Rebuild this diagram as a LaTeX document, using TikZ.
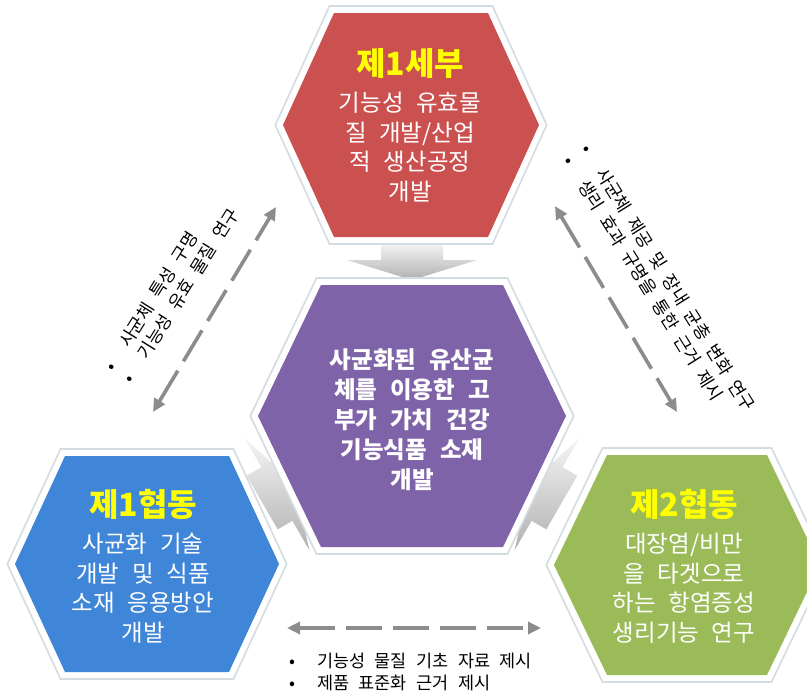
\documentclass[tikz,border=0pt]{standalone}
\usepackage{fontspec}
\setmainfont{Noto Sans CJK KR}[WordSpace=2.4]
\usetikzlibrary{arrows.meta}
\definecolor{hexred}{HTML}{CB5150}
\definecolor{hexpurple}{HTML}{7F63A8}
\definecolor{hexblue}{HTML}{3F86D8}
\definecolor{hexgreen}{HTML}{9BBB59}
\definecolor{rim}{HTML}{D3DCE0}
\definecolor{dashgray}{HTML}{8C8C8C}
\definecolor{titleyellow}{HTML}{FFFF00}
% cx cy halftop halfwidth halfheight colour
\newcommand\hexshape[6]{%
  \filldraw[white, draw=rim, line width=1.6pt]
    (#1-#3-4.5,#2-#5-7) -- (#1+#3+4.5,#2-#5-7) -- (#1+#4+7.7,#2) --
    (#1+#3+4.5,#2+#5+7) -- (#1-#3-4.5,#2+#5+7) -- (#1-#4-7.7,#2) -- cycle;
  \fill[#6]
    (#1-#3,#2-#5) -- (#1+#3,#2-#5) -- (#1+#4,#2) --
    (#1+#3,#2+#5) -- (#1-#3,#2+#5) -- (#1-#4,#2) -- cycle;
}
\newcommand\bul{\makebox[28pt][l]{•}}
\newcommand\hextitle[1]{{\fontsize{32}{34}\selectfont\bfseries\color{titleyellow}#1}}
\tikzset{
  hextext/.style={text=white, align=center, inner sep=0pt,
    font=\fontsize{23.5}{29.5}\selectfont},
  midtext/.style={text=white, align=center, inner sep=0pt,
    font=\fontsize{23.5}{30}\selectfont\bfseries},
  smalltext/.style={text=black, align=left, inner sep=0pt,
    font=\fontsize{17.5}{22}\selectfont},
  dasharrow/.style={draw=dashgray, line width=3.6pt, dash pattern=on 36pt off 11pt,
    {Triangle[length=13pt,width=12pt]}-{Triangle[length=13pt,width=12pt]}},
  blockarrow/.style={top color=gray!8, bottom color=gray!62}
}
\begin{document}
\begin{tikzpicture}[x=1pt,y=-1pt]
\useasboundingbox (0,0) rectangle (807,696);
\fill[white] (0,0) rectangle (807,696);

% block arrows toward the centre
\coordinate (cc) at (412,416);
\begin{scope}[shift={(cc)}]
  \shade[blockarrow] (-31,-173) -- (31,-173) -- (31,-156) -- (65,-156) -- (0,-136) -- (-65,-156) -- (-31,-156) -- cycle;
\end{scope}
\begin{scope}[shift={(cc)}, rotate=120]
  \shade[blockarrow] (-31,-173) -- (31,-173) -- (31,-156) -- (65,-156) -- (0,-136) -- (-65,-156) -- (-31,-156) -- cycle;
\end{scope}
\begin{scope}[shift={(cc)}, rotate=-120]
  \shade[blockarrow] (-31,-173) -- (31,-173) -- (31,-156) -- (65,-156) -- (0,-136) -- (-65,-156) -- (-31,-156) -- cycle;
\end{scope}

% hexagons
\hexshape{411}{125}{77}{128}{112}{hexred}
\hexshape{412}{416}{91}{154}{131}{hexpurple}
\hexshape{147}{564}{82}{132}{108}{hexblue}
\hexshape{687}{565}{80}{133}{110}{hexgreen}

% hexagon texts
\node[hextext] (t1) at (410,125) {\hextitle{제1세부}\\[7pt]기능성 유효물\\질 개발/산업\\적 생산공정\\개발};
\node[midtext] (t0) at (412,420) {사균화된 유산균\\체를 이용한 고\\부가 가치 건강\\기능식품 소재\\개발};
\node[hextext] (t2) at (143,566) {\hextitle{제1협동}\\[7pt]사균화 기술\\개발 및 식품\\소재 응용방안\\개발};
\node[hextext] (t3) at (684,566) {\hextitle{제2협동}\\[7pt]대장염/비만\\을 타겟으로\\하는 항염증성\\생리기능 연구};

% dashed connectors
\coordinate (la) at (153,412);
\coordinate (lb) at (276,207);
\coordinate (ra) at (555,206);
\coordinate (rb) at (677,412);
\coordinate (ba) at (287,628);
\coordinate (bb) at (541,628);
\draw[dasharrow] (la) -- (lb);
\draw[dasharrow] (ra) -- (rb);
\draw[dasharrow] (ba) -- (bb);

% side texts
\node[smalltext, rotate=58, anchor=west] (lt) at (118,375) {\bul 사균체 특성 구명\\\bul 기능성 유효 물질 연구};
\node[smalltext, rotate=-58, anchor=west] (rt) at (577,152) {\bul 사균체 제공 및 장내 균총 변화 연구\\\bul 생리 효과 규명을 통한 근거 제시};
\node[smalltext, anchor=west] (bt) at (289,672) {\bul 기능성 물질 기초 자료 제시\\\bul 제품 표준화 근거 제시};
\end{tikzpicture}
\end{document}
